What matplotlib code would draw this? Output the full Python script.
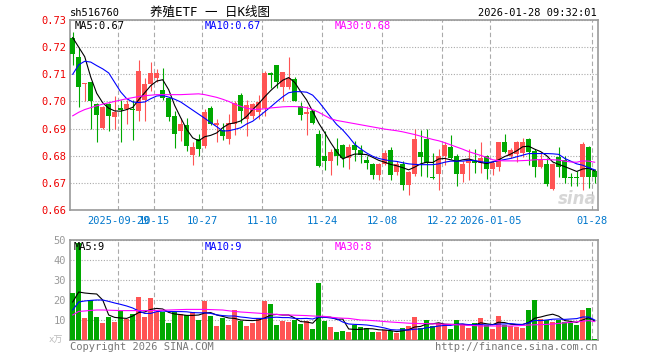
import numpy as np
import matplotlib.pyplot as plt

# 日K数据 (2025-09-17 起, 共88个交易日)
opens = [0.7235, 0.7164, 0.7063, 0.7071, 0.6990, 0.6902, 0.6990, 0.6944, 0.6975, 0.6973,
         0.6972, 0.6965, 0.7005, 0.7065, 0.7085, 0.7042, 0.7012, 0.6946, 0.6892, 0.6914,
         0.6801, 0.6860, 0.6834, 0.6974, 0.6915, 0.6894, 0.6863, 0.6916, 0.7024, 0.6935,
         0.6945, 0.6962, 0.6975, 0.7104, 0.7134, 0.7055, 0.7055, 0.7083, 0.6984, 0.6953,
         0.6963, 0.6880, 0.6800, 0.6781, 0.6823, 0.6839, 0.6790, 0.6840, 0.6822, 0.6786,
         0.6770, 0.6729, 0.6770, 0.6820, 0.6741, 0.6770, 0.6692, 0.6731, 0.6813, 0.6860,
         0.6720, 0.6733, 0.6800, 0.6833, 0.6800, 0.6733, 0.6772, 0.6781, 0.6772, 0.6800,
         0.6752, 0.6760, 0.6850, 0.6800, 0.6808, 0.6810, 0.6862, 0.6818, 0.6760, 0.6770,
         0.6678, 0.6794, 0.6785, 0.6722, 0.6722, 0.6720, 0.6832, 0.6745]
closes = [0.7176, 0.7055, 0.7068, 0.7002, 0.6950, 0.6980, 0.6945, 0.6962, 0.6968, 0.6990,
          0.6968, 0.7112, 0.7064, 0.7104, 0.7104, 0.7013, 0.6944, 0.6880, 0.6916, 0.6834,
          0.6831, 0.6823, 0.6960, 0.6916, 0.6920, 0.6874, 0.6920, 0.6995, 0.6965, 0.6988,
          0.6990, 0.6998, 0.7104, 0.7097, 0.7073, 0.7107, 0.7087, 0.7003, 0.6951, 0.6962,
          0.6922, 0.6763, 0.6782, 0.6812, 0.6800, 0.6790, 0.6833, 0.6820, 0.6801, 0.6774,
          0.6729, 0.6770, 0.6810, 0.6729, 0.6770, 0.6692, 0.6741, 0.6860, 0.6797, 0.6775,
          0.6718, 0.6800, 0.6839, 0.6792, 0.6731, 0.6770, 0.6787, 0.6772, 0.6790, 0.6752,
          0.6774, 0.6850, 0.6812, 0.6822, 0.6851, 0.6851, 0.6815, 0.6760, 0.6786, 0.6695,
          0.6770, 0.6757, 0.6718, 0.6718, 0.6718, 0.6843, 0.6720, 0.6720]
highs = [0.7256, 0.7196, 0.7068, 0.7071, 0.6995, 0.6985, 0.6995, 0.7020, 0.7005, 0.7005,
         0.7005, 0.7152, 0.7086, 0.7145, 0.7120, 0.7122, 0.7013, 0.6965, 0.6940, 0.6940,
         0.6851, 0.6880, 0.6971, 0.6982, 0.6935, 0.6920, 0.6952, 0.7000, 0.7032, 0.7005,
         0.6995, 0.7025, 0.7113, 0.7110, 0.7136, 0.7110, 0.7162, 0.7090, 0.6998, 0.6985,
         0.6968, 0.6895, 0.6890, 0.6825, 0.6864, 0.6842, 0.6845, 0.6855, 0.6840, 0.6800,
         0.6775, 0.6775, 0.6822, 0.6832, 0.6782, 0.6780, 0.6745, 0.6900, 0.6895, 0.6900,
         0.6810, 0.6824, 0.6852, 0.6876, 0.6805, 0.6782, 0.6825, 0.6825, 0.6850, 0.6802,
         0.6780, 0.6852, 0.6880, 0.6828, 0.6855, 0.6865, 0.6864, 0.6825, 0.6815, 0.6790,
         0.6775, 0.6833, 0.6800, 0.6735, 0.6745, 0.6851, 0.6835, 0.6750]
lows = [0.7134, 0.6980, 0.7000, 0.6898, 0.6850, 0.6900, 0.6890, 0.6900, 0.6850, 0.6917,
        0.6858, 0.6929, 0.6929, 0.7040, 0.7070, 0.7005, 0.6928, 0.6830, 0.6855, 0.6818,
        0.6767, 0.6798, 0.6830, 0.6912, 0.6850, 0.6858, 0.6842, 0.6876, 0.6919, 0.6873,
        0.6935, 0.6937, 0.6945, 0.7050, 0.7050, 0.7000, 0.7045, 0.7000, 0.6933, 0.6878,
        0.6918, 0.6757, 0.6748, 0.6730, 0.6765, 0.6760, 0.6750, 0.6780, 0.6775, 0.6750,
        0.6715, 0.6710, 0.6765, 0.6710, 0.6730, 0.6675, 0.6655, 0.6725, 0.6727, 0.6720,
        0.6713, 0.6675, 0.6765, 0.6788, 0.6688, 0.6702, 0.6711, 0.6735, 0.6738, 0.6715,
        0.6728, 0.6745, 0.6810, 0.6792, 0.6778, 0.6795, 0.6765, 0.6720, 0.6755, 0.6688,
        0.6675, 0.6720, 0.6700, 0.6690, 0.6690, 0.6675, 0.6680, 0.6698]
# 成交量 (万手)
volume = [23.7, 48.7, 11.0, 19.8, 11.5, 8.5, 11.5, 9.0, 14.5, 10.5,
          13.0, 21.5, 11.5, 21.0, 14.0, 14.0, 8.5, 14.0, 13.0, 12.5,
          14.0, 10.0, 19.5, 12.0, 7.0, 11.0, 7.5, 15.0, 9.5, 7.0,
          8.5, 10.5, 19.5, 18.0, 7.5, 9.5, 9.0, 10.0, 8.0, 9.5,
          5.5, 28.5, 9.5, 6.5, 4.0, 4.5, 4.0, 7.5, 6.5, 6.0,
          4.0, 4.0, 5.0, 4.5, 3.5, 6.0, 7.0, 11.5, 6.0, 10.0,
          7.0, 8.5, 8.0, 5.5, 10.0, 7.5, 6.0, 8.5, 11.0, 7.5,
          5.5, 12.0, 7.5, 7.0, 6.5, 6.0, 15.0, 20.0, 10.5, 10.0,
          9.0, 10.0, 9.0, 8.5, 7.5, 15.0, 16.0, 0.5]

# 均线
ma5 = [0.7235, 0.7200, 0.7165, 0.7090, 0.7030, 0.6995, 0.6975, 0.6965, 0.6964, 0.6970,
       0.6978, 0.7006, 0.7032, 0.7058, 0.7075, 0.7080, 0.7043, 0.6985, 0.6940, 0.6897,
       0.6866, 0.6855, 0.6870, 0.6875, 0.6884, 0.6903, 0.6917, 0.6921, 0.6928, 0.6945,
       0.6970, 0.6992, 0.7017, 0.7040, 0.7060, 0.7078, 0.7088, 0.7070, 0.7036, 0.7005,
       0.6963, 0.6920, 0.6885, 0.6848, 0.6815, 0.6788, 0.6798, 0.6806, 0.6806, 0.6804,
       0.6794, 0.6783, 0.6776, 0.6768, 0.6763, 0.6756, 0.6748, 0.6758, 0.6770, 0.6776,
       0.6775, 0.6788, 0.6790, 0.6785, 0.6779, 0.6785, 0.6788, 0.6782, 0.6775, 0.6771,
       0.6777, 0.6785, 0.6797, 0.6806, 0.6818, 0.6833, 0.6835, 0.6824, 0.6815, 0.6800,
       0.6777, 0.6768, 0.6760, 0.6751, 0.6742, 0.6751, 0.6754, 0.6744]
ma10 = [0.7100, 0.7135, 0.7148, 0.7145, 0.7132, 0.7120, 0.7105, 0.7070, 0.7035, 0.7010,
        0.6998, 0.6996, 0.6998, 0.7010, 0.7020, 0.7022, 0.7016, 0.7008, 0.6998, 0.6983,
        0.6968, 0.6953, 0.6938, 0.6922, 0.6907, 0.6891, 0.6892, 0.6897, 0.6903, 0.6917,
        0.6927, 0.6944, 0.6962, 0.6980, 0.6999, 0.7017, 0.7032, 0.7036, 0.7036, 0.7034,
        0.7023, 0.6999, 0.6971, 0.6942, 0.6915, 0.6895, 0.6870, 0.6842, 0.6825, 0.6810,
        0.6798, 0.6790, 0.6785, 0.6781, 0.6779, 0.6774, 0.6770, 0.6768, 0.6767, 0.6767,
        0.6767, 0.6770, 0.6776, 0.6780, 0.6780, 0.6780, 0.6783, 0.6782, 0.6778, 0.6775,
        0.6777, 0.6782, 0.6786, 0.6790, 0.6796, 0.6802, 0.6808, 0.6808, 0.6808, 0.6808,
        0.6807, 0.6805, 0.6790, 0.6780, 0.6770, 0.6765, 0.6756, 0.6748]
ma30 = [0.6947, 0.6960, 0.6970, 0.6977, 0.6984, 0.6990, 0.6995, 0.7000, 0.7005, 0.7010,
        0.7014, 0.7018, 0.7021, 0.7023, 0.7025, 0.7025, 0.7025, 0.7025, 0.7025, 0.7026,
        0.7027, 0.7028, 0.7025, 0.7020, 0.7015, 0.7008, 0.7000, 0.6990, 0.6982, 0.6975,
        0.6971, 0.6971, 0.6973, 0.6976, 0.6978, 0.6980, 0.6981, 0.6981, 0.6980, 0.6977,
        0.6970, 0.6960, 0.6948, 0.6936, 0.6930, 0.6926, 0.6922, 0.6918, 0.6914, 0.6910,
        0.6906, 0.6902, 0.6898, 0.6895, 0.6892, 0.6888, 0.6883, 0.6878, 0.6872, 0.6866,
        0.6860, 0.6855, 0.6848, 0.6840, 0.6832, 0.6824, 0.6815, 0.6808, 0.6801, 0.6794,
        0.6785, 0.6782, 0.6781, 0.6781, 0.6781, 0.6782, 0.6783, 0.6785, 0.6786, 0.6786,
        0.6785, 0.6784, 0.6780, 0.6777, 0.6776, 0.6781, 0.6780, 0.6776]
vma5 = [19.0, 24.0, 23.5, 23.2, 23.0, 20.0, 12.5, 11.3, 11.0, 10.8,
        12.0, 13.7, 14.0, 15.3, 15.8, 15.5, 13.8, 13.0, 12.7, 12.3,
        12.3, 12.5, 13.5, 13.7, 12.5, 11.8, 11.0, 10.8, 10.0, 9.8,
        9.7, 10.0, 11.0, 12.5, 12.8, 12.5, 12.5, 11.0, 9.2, 9.0,
        8.4, 11.5, 11.5, 11.4, 10.3, 10.5, 5.5, 5.3, 5.3, 5.7,
        5.6, 5.1, 5.0, 4.7, 4.2, 4.6, 5.2, 6.5, 6.8, 8.1,
        8.1, 8.6, 7.9, 7.8, 7.8, 7.9, 7.4, 7.5, 8.6, 8.1,
        7.7, 8.9, 8.7, 7.9, 7.7, 7.8, 8.7, 10.9, 11.5, 12.3,
        12.9, 11.9, 9.7, 9.3, 8.8, 10.0, 11.2, 9.5]
vma10 = [15.0, 19.0, 19.5, 19.8, 20.0, 20.0, 19.3, 18.5, 17.8, 17.0,
         16.0, 14.5, 13.3, 13.3, 14.2, 14.5, 14.3, 14.2, 14.2, 14.1,
         13.7, 13.6, 13.6, 13.3, 12.6, 12.2, 12.0, 12.0, 11.5, 11.2,
         10.8, 10.8, 10.8, 11.3, 11.4, 11.2, 11.2, 10.8, 10.7, 10.8,
         10.5, 11.5, 11.4, 11.0, 10.6, 9.0, 8.0, 7.8, 7.7, 7.5,
         7.1, 6.6, 6.0, 5.2, 5.0, 5.1, 5.0, 5.4, 5.5, 6.1,
         6.5, 7.0, 7.3, 7.3, 7.9, 8.0, 7.7, 7.6, 7.7, 7.5,
         7.6, 8.0, 8.0, 8.2, 7.9, 7.7, 8.6, 9.8, 9.7, 10.0,
         10.4, 10.5, 10.3, 10.5, 10.7, 11.5, 11.5, 10.0]
vma30 = [12.5, 14.3, 14.5, 14.8, 15.0, 15.0, 14.9, 14.8, 14.7, 14.7,
         14.7, 14.7, 14.7, 14.7, 14.8, 14.9, 15.0, 15.1, 15.2, 15.3,
         15.3, 15.3, 15.3, 15.2, 15.1, 15.0, 14.6, 14.3, 14.0, 13.8,
         13.6, 13.4, 13.2, 13.0, 12.8, 12.6, 12.5, 12.4, 12.3, 12.2,
         12.0, 11.9, 11.8, 11.4, 11.1, 10.9, 10.8, 10.4, 10.0, 9.9,
         9.7, 9.5, 9.2, 9.0, 8.8, 8.6, 8.4, 8.3, 8.2, 8.2,
         8.1, 8.0, 7.9, 7.8, 7.6, 7.5, 7.3, 7.2, 7.0, 7.0,
         7.0, 7.0, 7.0, 7.0, 7.1, 7.3, 7.5, 7.6, 7.7, 7.8,
         8.0, 8.3, 8.6, 8.8, 9.1, 9.4, 9.7, 9.2]

date_ticks = ['2025-09-29', '10-15', '10-27', '11-10', '11-24', '12-08', '12-22', '2026-01-05', '01-28']
tick_idx = [8, 14, 22, 32, 42, 52, 62, 70, 87]
price_ticks = [0.66, 0.67, 0.68, 0.69, 0.70, 0.71, 0.72, 0.73]
vol_ticks = [10, 20, 30, 40, 50]

RED = '#ff5454'
GREEN = '#00a800'
FRAME = '#999999'
GRID = '#aaaaaa'
MONO = 'DejaVu Sans Mono'
plt.rcParams['font.family'] = [MONO, 'Noto Sans CJK SC']

W, H = 660, 360
fig = plt.figure(figsize=(6.6, 3.6), dpi=100)

def box(l, t, r, b):
    return [l / W, 1 - b / H, (r - l) / W, (b - t) / H]

ax = fig.add_axes(box(70, 20, 598, 210))
axv = fig.add_axes(box(70, 240, 598, 340))

x = np.arange(len(closes))
o = np.array(opens)
c = np.array(closes)
up = c >= o
colors = np.where(up, RED, GREEN)

# K线
ax.vlines(x, lows, highs, colors=colors, linewidth=0.8, zorder=3)
body = np.maximum(np.abs(c - o), 0.00015)
ax.bar(x, body, bottom=np.minimum(o, c), width=0.75, color=colors, linewidth=0, zorder=4)
ax.plot(x, ma5, color='black', lw=0.8, zorder=5)
ax.plot(x, ma10, color='#0000ff', lw=0.8, zorder=5)
ax.plot(x, ma30, color='#ff00ff', lw=0.8, zorder=5)

# 成交量
axv.bar(x, volume, width=0.8, color=colors, linewidth=0, zorder=3)
axv.plot(x, vma5, color='black', lw=0.8, zorder=5)
axv.plot(x, vma10, color='#0000ff', lw=0.8, zorder=5)
axv.plot(x, vma30, color='#ff00ff', lw=0.8, zorder=5)

vpos = np.array(tick_idx) - 0.37
for a in (ax, axv):
    a.set_xlim(-0.45, 87.55)
    a.set_xticks(vpos)
    a.grid(axis='x', color=GRID, linestyle=(0, (4, 2.5)), lw=0.8, zorder=1)
    a.grid(axis='y', color=GRID, linestyle=(0, (1, 1.5)), lw=0.8, zorder=1)
    for s in a.spines.values():
        s.set_color(FRAME)
        s.set_linewidth(1.2)
    a.tick_params(length=0)

ax.set_ylim(0.66, 0.73)
ax.set_yticks(price_ticks)
ax.set_yticklabels(['%.2f' % v for v in price_ticks], color='#ee0000', fontsize=7.5)
ax.set_xticklabels(date_ticks, color='#0077cc', fontsize=7.5)
ax.tick_params(axis='y', pad=2.5)
ax.tick_params(axis='x', pad=4)

axv.set_ylim(0, 50)
axv.set_yticks(vol_ticks)
axv.set_yticklabels([str(v) for v in vol_ticks], color=FRAME, fontsize=7.5)
axv.set_xticklabels([])
axv.tick_params(axis='y', pad=3)

def ftext(px, py, s, **kw):
    fig.text(px / W, 1 - py / H, s, **kw)

ftext(70, 13, 'sh516760', fontsize=7.5, va='center')
ftext(210, 12, '养殖ETF 一 日K线图', fontsize=9, va='center', ha='center')
ftext(597, 13, '2026-01-28 09:32:01', fontsize=7.5, va='center', ha='right')
ftext(75, 26, 'MA5:0.67', fontsize=7.5, va='center', color='black')
ftext(205, 26, 'MA10:0.67', fontsize=7.5, va='center', color='#0000ff')
ftext(335, 26, 'MA30:0.68', fontsize=7.5, va='center', color='#ff00ff')
ftext(74, 247, 'MA5:9', fontsize=7.5, va='center', color='black')
ftext(205, 247, 'MA10:9', fontsize=7.5, va='center', color='#0000ff')
ftext(335, 247, 'MA30:8', fontsize=7.5, va='center', color='#ff00ff')
ftext(49, 340, 'x万', fontsize=6.5, va='center', color='#bbbbbb')
ftext(70, 347, 'Copyright 2026 SINA.COM', fontsize=7.5, va='center', color='#777777')
ftext(597, 347, 'http://finance.sina.com.cn', fontsize=7.5, va='center', ha='right', color='#777777')
ftext(597, 199, 'sina', fontsize=12, va='center', ha='right', color='#cccccc',
      style='italic', weight='bold', family='DejaVu Sans', alpha=0.8)

fig.savefig('out.png', dpi=100)
